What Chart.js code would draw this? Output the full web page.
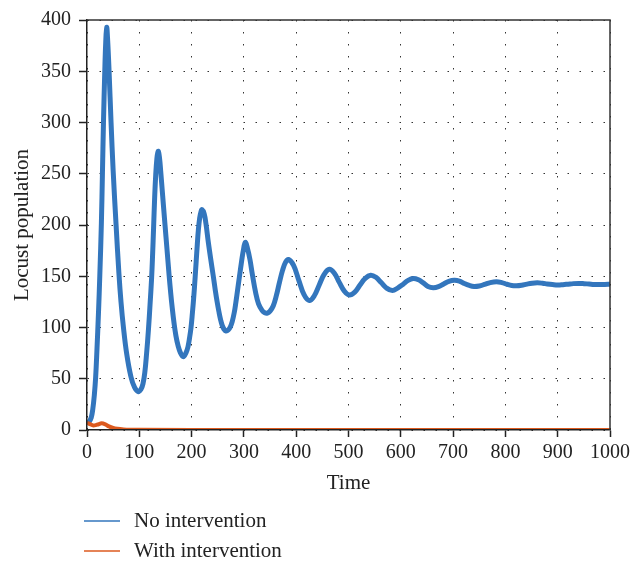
<!DOCTYPE html>
<html>
<head>
<meta charset="utf-8">
<script src="https://cdn.jsdelivr.net/npm/chart.js@4/dist/chart.umd.min.js"></script>
<style>
  html, body { margin: 0; padding: 0; background: #fff; }
  #wrap { width: 642px; height: 565px; }
</style>
</head>
<body>
<div id="wrap"><canvas id="c" width="642" height="565"></canvas></div>
<script>
// ---- Data ----
const seriesLabels = ["No intervention", "With intervention"];
const seriesColors = ["#3376BD", "#DC5A1F"];

const timeNoInt = [0, 4, 8, 11, 14, 16.5, 19, 22, 24.5, 27.5, 29.5, 31.5, 34, 35.8, 37.6, 39.5, 42.2, 46, 50, 55.5,
  61, 65, 69.5, 76, 84, 91, 98, 103, 107, 110.5, 114, 117.5, 120.5, 123.5, 125.5, 127.3, 129.3, 131.3, 133.5, 136,
  138.5, 141, 143.5, 146, 149, 153, 157, 160, 163, 166.5, 170, 174, 178.5, 184,
  189.5, 193, 196, 198.9, 201.5, 204.6, 206.5, 208.7, 210.9, 212.9, 215.5, 218, 219.9,
  224, 227.5, 232, 236.5, 241.5, 245.4, 249, 252.4, 255.5, 258.5, 262, 265.8,
  270, 274, 277.8, 281.7, 284.5, 287.4, 291.3, 295.7, 299, 302.7,
  306.5, 311.7, 316.1, 322.5, 328, 335, 340, 344.8, 350, 356, 362, 368, 374, 379.5, 385, 395, 405, 415,
  425, 434.6, 444, 453.7, 463.3, 473, 482.4, 492, 501.5, 512, 522, 532, 542.4, 552.5, 562.5, 572.5, 584, 594,
  604, 614, 624, 634, 643, 652, 662, 672, 682, 692, 702, 712, 721, 731, 740, 750, 760, 771, 783, 793,
  803, 812, 821, 831, 841, 851, 861, 871, 880, 890, 900, 910, 920, 930, 940, 950, 960, 970, 980, 990, 1000];
const popNoInt = [6, 8, 12, 20, 34, 51, 78, 115, 151, 202, 250, 300, 350, 378, 393, 380, 350, 300, 253, 201,
  153, 125, 101, 74, 52, 41.5, 37.5, 39.5, 45, 56, 75, 98, 122, 148, 172, 197, 226, 248, 264, 272,
  266, 252, 236, 220, 201, 176, 151, 134, 119, 104, 92, 82.5, 75.5, 71.5,
  75.5, 81, 89.5, 100, 114, 133, 147, 164, 181, 195, 207, 213, 215,
  211, 201, 183, 167, 150, 136, 124.5, 115, 107.5, 102, 98.3, 96.5,
  97.5, 100.5, 106, 115, 124, 134.5, 149, 165, 175.5, 183,
  178, 166, 152, 134, 123, 116.5, 114.3, 114, 116, 121, 131, 144, 156, 163.5, 166.4, 160.5, 146, 132,
  126.3, 131, 141.5, 152, 156.8, 153, 144, 135.5, 131.7, 134.5, 141.4, 148, 151, 149, 143.8, 138.6, 136, 138.5,
  142, 146, 147.8, 146.5, 143.5, 140, 138.8, 139.8, 142.5, 145, 146, 145.3, 143, 141, 140, 140.5, 142, 143.8, 144.6, 143.8,
  142.2, 141, 140.7, 141.2, 142.3, 143.2, 143.6, 143.2, 142.5, 141.9, 141.5, 141.8, 142.3, 142.8, 143, 142.8, 142.4, 142, 141.9, 142, 142.2];

const timeWithInt = [0, 5, 12, 20, 28, 35, 42, 50, 58, 70, 85, 100, 200, 1000];
const popWithInt  = [7, 6, 4.5, 5.3, 6.5, 5.5, 3.5, 2, 1.2, 0.6, 0.3, 0.2, 0.1, 0.1];

const xTickStep = 100, xMin = 0, xMax = 1000;
const yTickStep = 50,  yMin = 0, yMax = 400;
const xTitle = "Time";
const yTitle = "Locust population";

// ---- Build datasets ----
const toXY = (xs, ys) => xs.map((x, i) => ({ x: x, y: ys[i] }));

const FONT = "'Liberation Serif', 'Times New Roman', serif";
const TXT = "#222";

const framePlugin = {
  id: "frameAndLegend",
  afterDraw(chart) {
    const { ctx, chartArea: a } = chart;
    ctx.save();
    ctx.strokeStyle = "#333";
    ctx.lineWidth = 1.5;
    ctx.beginPath();
    ctx.moveTo(a.left, a.top);
    ctx.lineTo(a.right, a.top);
    ctx.lineTo(a.right, a.bottom);
    ctx.stroke();

    // legend
    ctx.font = "21px " + FONT;
    ctx.textBaseline = "middle";
    ctx.textAlign = "left";
    seriesLabels.forEach((lab, i) => {
      const y = a.bottom + 91 + i * 30;
      ctx.strokeStyle = seriesColors[i];
      ctx.lineWidth = 1.5;
      ctx.beginPath();
      ctx.moveTo(a.left - 3, y);
      ctx.lineTo(a.left + 33, y);
      ctx.stroke();
      ctx.fillStyle = TXT;
      ctx.fillText(lab, a.left + 47, y);
    });
    ctx.restore();
  }
};

new Chart(document.getElementById("c"), {
  type: "line",
  data: {
    datasets: [
      {
        label: seriesLabels[0],
        data: toXY(timeNoInt, popNoInt),
        borderColor: seriesColors[0],
        backgroundColor: seriesColors[0],
        borderWidth: 5,
        pointRadius: 0,
        tension: 0.4,
        fill: false,
        order: 1
      },
      {
        label: seriesLabels[1],
        data: toXY(timeWithInt, popWithInt),
        borderColor: seriesColors[1],
        backgroundColor: seriesColors[1],
        borderWidth: 4,
        pointRadius: 0,
        cubicInterpolationMode: "monotone",
        fill: false,
        order: 0
      }
    ]
  },
  options: {
    responsive: false,
    animation: false,
    events: [],
    layout: { padding: { left: 0, right: 32, top: 15, bottom: 65 } },
    plugins: {
      legend: { display: false },
      tooltip: { enabled: false },
      title: { display: false }
    },
    scales: {
      x: {
        type: "linear",
        min: xMin, max: xMax,
        afterFit: s => { s.height = 70; },
        ticks: {
          stepSize: xTickStep,
          color: TXT,
          font: { family: FONT, size: 20 },
          padding: 4,
          maxRotation: 0,
          callback: v => String(v)
        },
        grid: {
          color: "#333",
          lineWidth: 1,
          tickLength: 7,
          tickColor: "#222",
          tickWidth: 1.5,
          tickBorderDash: []
        },
        border: { display: true, color: "#222", width: 1.5, dash: [1.5, 10.5], z: 1 },
        title: {
          display: true, text: xTitle, color: TXT,
          font: { family: FONT, size: 21 },
          padding: { top: 0, bottom: 4 }
        }
      },
      y: {
        type: "linear",
        min: yMin, max: yMax,
        afterFit: s => { s.width = 87; },
        ticks: {
          stepSize: yTickStep,
          color: TXT,
          font: { family: FONT, size: 20 },
          padding: 8,
          callback: v => String(v)
        },
        grid: {
          color: "#333",
          lineWidth: 1,
          tickLength: 8,
          tickColor: "#222",
          tickWidth: 1.5,
          tickBorderDash: []
        },
        border: { display: true, color: "#222", width: 1.5, dash: [1.5, 10.5], z: 1 },
        title: {
          display: true, text: yTitle, color: TXT,
          font: { family: FONT, size: 21 },
          padding: { top: 10, bottom: 0 }
        }
      }
    }
  },
  plugins: [framePlugin]
});
</script>
</body>
</html>
